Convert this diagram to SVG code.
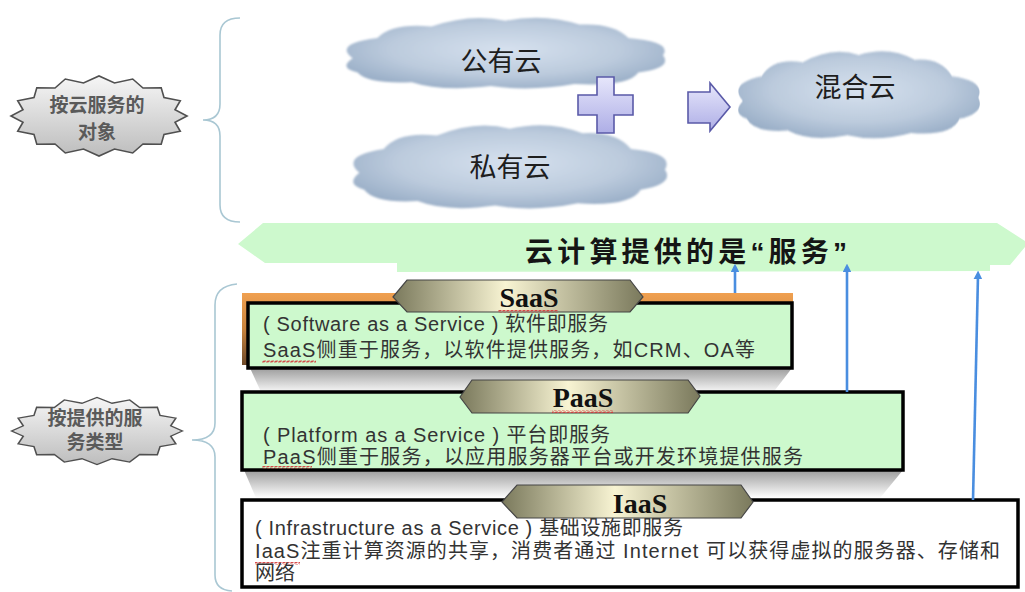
<svg xmlns="http://www.w3.org/2000/svg" xmlns:xlink="http://www.w3.org/1999/xlink" width="1025" height="592" viewBox="0 0 1025 592">
  <defs>
    <style>
      .brace { fill: none; stroke: #a9c7d3; stroke-width: 1.6; }
      .seal { fill: url(#sealFill); stroke: #505050; stroke-width: 1.6; }
      .seal-text { font-family: "Liberation Sans", "Noto Sans CJK SC", sans-serif; font-size: 19px; font-weight: 700; fill: #5a5a5a; text-anchor: middle; }
      .cloud { fill: url(#cloudFill); filter: url(#soft); }
      .cloud-text { font-family: "Liberation Sans", "Noto Sans CJK SC", sans-serif; font-size: 27px; fill: #1e1e1e; text-anchor: middle; }
      .lilac { fill: url(#lilacFill); stroke: #5a5aa8; stroke-width: 1.6; }
      .banner { fill: #cdf9cd; }
      .banner-text { font-family: "Liberation Sans", "Noto Sans CJK SC", sans-serif; font-size: 28px; font-weight: 700; fill: #151515; }
      .box { stroke: #000; stroke-width: 3.5; }
      .box-green { fill: #cdf9cd; }
      .box-white { fill: #ffffff; }
      .tag { fill: url(#tagFill); stroke: #454545; stroke-width: 1.2; }
      .tag-text { font-family: "Liberation Serif", serif; font-size: 28px; font-weight: 700; fill: #111; text-anchor: middle; }
      .body { font-family: "Liberation Sans", "Noto Sans CJK SC", sans-serif; font-size: 20px; fill: #333; }
      .squiggle { fill: url(#squiggle); }
      .shadow { fill: url(#shadowFill); }
      .link { fill: none; stroke: #4a8ee0; stroke-width: 2.6; marker-end: url(#head); }
    </style>
    <linearGradient id="sealFill" x1="0" y1="0" x2="0" y2="1">
      <stop offset="0" stop-color="#f6f6f6"/>
      <stop offset="1" stop-color="#bdbdbd"/>
    </linearGradient>
    <radialGradient id="cloudFill" cx="50%" cy="45%" r="60%">
      <stop offset="0" stop-color="#d6e1ee"/>
      <stop offset="0.6" stop-color="#bccbdd"/>
      <stop offset="1" stop-color="#98adc6"/>
    </radialGradient>
    <linearGradient id="lilacFill" x1="0" y1="0" x2="0" y2="1">
      <stop offset="0" stop-color="#e6e6fb"/>
      <stop offset="1" stop-color="#aeaee6"/>
    </linearGradient>
    <linearGradient id="tagFill" x1="0" y1="0" x2="1" y2="0">
      <stop offset="0" stop-color="#7a795c"/>
      <stop offset="0.45" stop-color="#f8f4d3"/>
      <stop offset="1" stop-color="#7a795c"/>
    </linearGradient>
    <linearGradient id="orangeFill" x1="0" y1="0" x2="0" y2="1">
      <stop offset="0" stop-color="#f0a050"/>
      <stop offset="0.5" stop-color="#c8843e"/>
      <stop offset="1" stop-color="#6e4a2a"/>
    </linearGradient>
    <linearGradient id="shadowFill" x1="0" y1="0" x2="0" y2="1">
      <stop offset="0" stop-color="#9c9c9c"/>
      <stop offset="1" stop-color="#ffffff"/>
    </linearGradient>
    <filter id="soft" x="-5%" y="-10%" width="110%" height="120%">
      <feGaussianBlur stdDeviation="0.9"/>
    </filter>
    <pattern id="squiggle" width="4" height="3" patternUnits="userSpaceOnUse">
      <path d="M0,2.5 L1,0.5 L3,2.5 L4,0.5" fill="none" stroke="#d23a3a" stroke-width="0.9"/>
    </pattern>
    <marker id="head" viewBox="0 0 10 10" refX="5" refY="5" markerWidth="3.4" markerHeight="3.4" orient="auto">
      <path d="M0,0 L10,5 L0,10 Z" fill="#4a8ee0"/>
    </marker>
    <!-- sixteen-point seal, centred on the origin -->
    <path id="seal" d="M88,0 L76,6.2 L81.3,15.3 L65,18.5 L62.2,28.3 L44,28 L33.7,37 L15.5,33 L0,40 L-15.5,33 L-33.7,37 L-44,28 L-62.2,28.3 L-65,18.5 L-81.3,15.3 L-76,6.2 L-88,0 L-76,-6.2 L-81.3,-15.3 L-65,-18.5 L-62.2,-28.3 L-44,-28 L-33.7,-37 L-15.5,-33 L0,-40 L15.5,-33 L33.7,-37 L44,-28 L62.2,-28.3 L65,-18.5 L81.3,-15.3 L76,-6.2 Z"/>
    <!-- cloud outline in a 340 x 75 box -->
    <path id="cloud" d="M20,45 Q0,30 45,24 Q60,8 100,12 Q140,-2 175,6 Q215,-2 250,10 Q285,8 300,24 Q345,28 335,42 Q345,55 310,60 Q300,75 245,72 Q200,80 160,74 Q110,80 80,70 Q35,72 25,60 Q5,55 20,45 Z"/>
  </defs>

  <rect width="1025" height="592" fill="#ffffff"/>

  <!-- category labels -->
  <g id="label-audience">
    <use href="#seal" class="seal" transform="translate(99,116)"/>
    <text class="seal-text" x="97" y="112">按云服务的</text>
    <text class="seal-text" x="97" y="139">对象</text>
  </g>
  <g id="label-service-type">
    <use href="#seal" class="seal" transform="translate(97,431) scale(0.97,0.84)"/>
    <text class="seal-text" x="95" y="425">按提供的服</text>
    <text class="seal-text" x="95" y="449">务类型</text>
  </g>

  <!-- braces -->
  <g id="brace-top">
    <path class="brace" d="M240,18 Q220,18 220,35 L220,104 Q220,120 203,120 Q220,120 220,136 L220,205 Q220,222 240,222"/>
  </g>
  <g id="brace-bottom">
    <path class="brace" d="M237,284 Q215,286 215,305 L215,423 Q215,440 192,440 Q215,440 215,457 L215,575 Q215,590 232,591"/>
  </g>

  <!-- deployment clouds -->
  <g id="cloud-public">
    <use href="#cloud" class="cloud" transform="translate(333,15) scale(0.985,0.96)"/>
    <text class="cloud-text" x="501" y="71">公有云</text>
  </g>
  <g id="cloud-private">
    <use href="#cloud" class="cloud" transform="translate(340,122) scale(0.97,1.13)"/>
    <text class="cloud-text" x="510" y="177">私有云</text>
  </g>
  <g id="cloud-hybrid">
    <use href="#cloud" class="cloud" transform="translate(728,48) scale(0.747,1.18)"/>
    <text class="cloud-text" x="855" y="97">混合云</text>
  </g>

  <g id="plus">
    <path class="lilac" d="M597,77 H614 V95 H633 V115 H614 V133 H597 V115 H578 V95 H597 Z"/>
  </g>
  <g id="arrow-merge">
    <path class="lilac" d="M688,92 H710 V83 L730,107 L710,131 V123 H688 Z"/>
  </g>

  <!-- service banner -->
  <g id="banner">
    <path class="banner" d="M238,244 L263,223 L997,223 L1025,241 L1025,247 L1010,265 L990,265 L990,271 L397,272 L397,263 L265,263 Z"/>
    <text class="banner-text" x="525" y="262" textLength="322" lengthAdjust="spacing">云计算提供的是“服务”</text>
  </g>

  <!-- SaaS -->
  <g id="saas">
    <path class="shadow" d="M250,368 L792,368 L772,394 L262,394 Z"/>
    <rect x="242" y="293" width="551" height="72" fill="url(#orangeFill)"/>
    <rect class="box box-green" x="248" y="303" width="544" height="65"/>
    <text class="body" x="263" y="331" textLength="345" lengthAdjust="spacing">( Software as a Service ) 软件即服务</text>
    <text class="body" x="263" y="357" textLength="492" lengthAdjust="spacing">SaaS侧重于服务，以软件提供服务，如CRM、OA等</text>
    <rect class="squiggle" x="262" y="360" width="54" height="3"/>
    <path class="tag" d="M393,297 L407,280 L630,280 L643,297 L630,312 L407,312 Z"/>
    <text class="tag-text" x="529" y="307">SaaS</text>
    <rect class="squiggle" x="498" y="310" width="60" height="3"/>
  </g>

  <!-- PaaS -->
  <g id="paas">
    <path class="shadow" d="M244,470 L903,470 L880,498 L256,498 Z"/>
    <rect class="box box-green" x="242" y="392" width="661" height="78"/>
    <text class="body" x="263" y="442" textLength="347" lengthAdjust="spacing">( Platform as a Service  ) 平台即服务</text>
    <text class="body" x="263" y="464" textLength="540" lengthAdjust="spacing">PaaS侧重于服务，以应用服务器平台或开发环境提供服务</text>
    <rect class="squiggle" x="262" y="466" width="50" height="3"/>
    <path class="tag" d="M460,397 L472,380 L688,380 L700,396 L688,413 L472,413 Z"/>
    <text class="tag-text" x="583" y="407">PaaS</text>
    <rect class="squiggle" x="552" y="410" width="61" height="3"/>
  </g>

  <!-- IaaS -->
  <g id="iaas">
    <rect class="box box-white" x="242" y="500" width="776" height="87"/>
    <text class="body" x="255" y="535" textLength="428" lengthAdjust="spacing">( Infrastructure as a Service ) 基础设施即服务</text>
    <text class="body" x="255" y="558" textLength="745" lengthAdjust="spacing">IaaS注重计算资源的共享，消费者通过 Internet 可以获得虚拟的服务器、存储和</text>
    <rect class="squiggle" x="255" y="562" width="45" height="3"/>
    <text class="body" x="255" y="580">网络</text>
    <path class="tag" d="M502,502 L517,485 L741,485 L753,502 L741,518 L517,518 Z"/>
    <text class="tag-text" x="640" y="513">IaaS</text>
  </g>

  <!-- connectors -->
  <g id="connectors">
    <path class="link" d="M735,293 L735,268"/>
    <path class="link" d="M847,392 L847,268"/>
    <path class="link" d="M973,500 L978,275"/>
  </g>
</svg>
